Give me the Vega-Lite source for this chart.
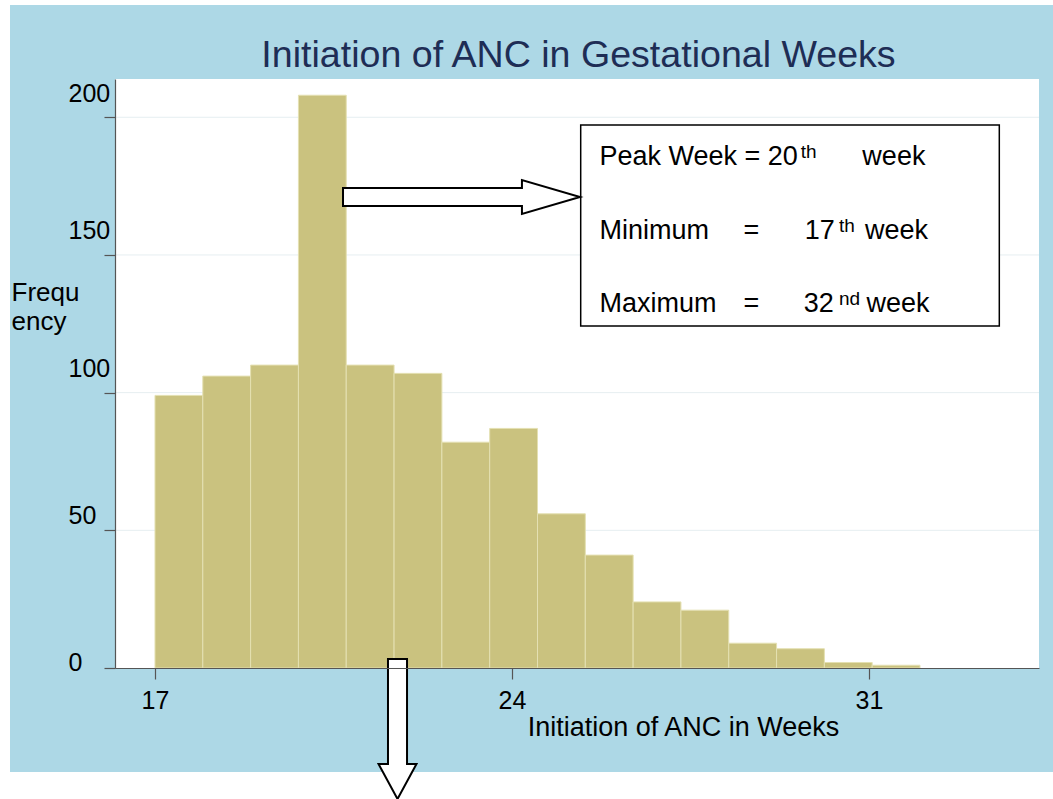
{
  "$schema": "https://vega.github.io/schema/vega-lite/v6.json",
  "width": 924,
  "height": 589,
  "autosize": {"type": "none"},
  "padding": {"left": 115, "top": 79, "right": 14, "bottom": 131},
  "background": "white",
  "config": {
    "view": {"stroke": null},
    "font": "Liberation Sans",
    "text": {"font": "Liberation Sans"}
  },
  "datasets": {
    "histogram": [
      {"week": 17, "bin_start": 17.0, "bin_end": 17.9375, "frequency": 99},
      {"week": 18, "bin_start": 17.9375, "bin_end": 18.875, "frequency": 106},
      {"week": 19, "bin_start": 18.875, "bin_end": 19.8125, "frequency": 110},
      {"week": 20, "bin_start": 19.8125, "bin_end": 20.75, "frequency": 208},
      {"week": 21, "bin_start": 20.75, "bin_end": 21.6875, "frequency": 110},
      {"week": 22, "bin_start": 21.6875, "bin_end": 22.625, "frequency": 107},
      {"week": 23, "bin_start": 22.625, "bin_end": 23.5625, "frequency": 82},
      {"week": 24, "bin_start": 23.5625, "bin_end": 24.5, "frequency": 87},
      {"week": 25, "bin_start": 24.5, "bin_end": 25.4375, "frequency": 56},
      {"week": 26, "bin_start": 25.4375, "bin_end": 26.375, "frequency": 41},
      {"week": 27, "bin_start": 26.375, "bin_end": 27.3125, "frequency": 24},
      {"week": 28, "bin_start": 27.3125, "bin_end": 28.25, "frequency": 21},
      {"week": 29, "bin_start": 28.25, "bin_end": 29.1875, "frequency": 9},
      {"week": 30, "bin_start": 29.1875, "bin_end": 30.125, "frequency": 7},
      {"week": 31, "bin_start": 30.125, "bin_end": 31.0625, "frequency": 2},
      {"week": 32, "bin_start": 31.0625, "bin_end": 32.0, "frequency": 1}
    ],
    "frame": [{"x": 14.157, "x2": 34.8, "y": -37.77, "y2": 240.8}],
    "plotarea": [{"x": 16.2157, "x2": 34.3333, "y": 0, "y2": 213.9}],
    "grid": [{"y": 50}, {"y": 100}, {"y": 150}, {"y": 200}],
    "box": [{"x": 25.347, "x2": 33.555, "y": 124.2, "y2": 197.2}],
    "boxtext": [
      {"text": "Peak Week = 20", "x": 25.716, "y": 182.68},
      {"text": "week", "x": 30.87, "y": 182.68},
      {"text": "Minimum", "x": 25.716, "y": 155.8},
      {"text": "=", "x": 28.54, "y": 155.8},
      {"text": "17", "x": 29.74, "y": 155.8},
      {"text": "week", "x": 30.92, "y": 155.8},
      {"text": "Maximum", "x": 25.716, "y": 129.3},
      {"text": "=", "x": 28.54, "y": 129.3},
      {"text": "32", "x": 29.72, "y": 129.3},
      {"text": "week", "x": 30.95, "y": 129.3}
    ],
    "superscripts": [
      {"text": "th", "x": 29.66, "y": 185.2},
      {"text": "th", "x": 30.41, "y": 158.4},
      {"text": "nd", "x": 30.41, "y": 131.8}
    ],
    "rightarrow": [{"x": 23.01, "y": 171.05}],
    "downarrow": [{"x": 21.755, "y": -22.15}],
    "title": [{"text": "Initiation of ANC in Gestational Weeks", "x": 25.304, "y": 218.27}]
  },
  "layer": [
    {
      "data": {"name": "frame"},
      "mark": {"type": "rect", "fill": "#add8e6", "stroke": null},
      "encoding": {
        "x": {"field": "x", "type": "quantitative"},
        "x2": {"field": "x2"},
        "y": {"field": "y", "type": "quantitative"},
        "y2": {"field": "y2"}
      }
    },
    {
      "data": {"name": "plotarea"},
      "mark": {"type": "rect", "fill": "white", "stroke": null},
      "encoding": {
        "x": {"field": "x", "type": "quantitative"},
        "x2": {"field": "x2"},
        "y": {"field": "y", "type": "quantitative"},
        "y2": {"field": "y2"}
      }
    },
    {
      "data": {"name": "grid"},
      "mark": {"type": "rule", "color": "#e6eef1", "strokeWidth": 1},
      "encoding": {
        "y": {"field": "y", "type": "quantitative"}
      }
    },
    {
      "data": {"name": "histogram"},
      "mark": {"type": "rect", "fill": "#cac27f", "stroke": "#e4e0b2", "strokeWidth": 1},
      "encoding": {
        "x": {
          "field": "bin_start",
          "type": "quantitative",
          "scale": {"domain": [16.2157, 34.3333], "nice": false, "zero": false},
          "axis": {
            "title": "Initiation of ANC in Weeks",
            "values": [17, 24, 31],
            "grid": false,
            "zindex": 1,
            "domainColor": "#555555",
            "domainWidth": 1.2,
            "tickColor": "#555555",
            "tickSize": 11,
            "tickWidth": 1.2,
            "labelFont": "Liberation Sans",
            "labelFontSize": 25,
            "labelColor": "black",
            "labelBaseline": "alphabetic",
            "labelPadding": 29,
            "titleFont": "Liberation Sans",
            "titleFontSize": 27,
            "titleFontWeight": "normal",
            "titleColor": "black",
            "titleX": 568,
            "titleY": 67,
            "titleAlign": "center",
            "titleBaseline": "alphabetic"
          }
        },
        "x2": {"field": "bin_end"},
        "y": {
          "field": "frequency",
          "type": "quantitative",
          "scale": {"domain": [0, 213.9], "nice": false, "zero": true},
          "axis": {
            "title": ["Frequ", "ency"],
            "values": [0, 50, 100, 150, 200],
            "grid": false,
            "zindex": 1,
            "domainColor": "#555555",
            "domainWidth": 1.2,
            "tickColor": "#555555",
            "tickSize": 11,
            "tickWidth": 1.2,
            "labelFont": "Liberation Sans",
            "labelFontSize": 25,
            "labelColor": "black",
            "labelAlign": "left",
            "labelBaseline": "middle",
            "labelPadding": 36,
            "labelOffset": {"expr": "datum.value == 0 ? -6 : (datum.value == 50 ? -15 : -24)"},
            "titleFont": "Liberation Sans",
            "titleFontSize": 26,
            "titleFontWeight": "normal",
            "titleColor": "black",
            "titleAngle": 0,
            "titleX": -104,
            "titleY": 221.5,
            "titleAlign": "left",
            "titleBaseline": "alphabetic",
            "titleLineHeight": 29
          }
        },
        "y2": {"datum": 0}
      }
    },
    {
      "data": {"name": "box"},
      "mark": {"type": "rect", "fill": "white", "stroke": "black", "strokeWidth": 1.5},
      "encoding": {
        "x": {"field": "x", "type": "quantitative"},
        "x2": {"field": "x2"},
        "y": {"field": "y", "type": "quantitative"},
        "y2": {"field": "y2"}
      }
    },
    {
      "data": {"name": "boxtext"},
      "mark": {"type": "text", "align": "left", "baseline": "alphabetic", "fontSize": 27, "font": "Liberation Sans", "color": "black"},
      "encoding": {
        "x": {"field": "x", "type": "quantitative"},
        "y": {"field": "y", "type": "quantitative"},
        "text": {"field": "text"}
      }
    },
    {
      "data": {"name": "superscripts"},
      "mark": {"type": "text", "align": "left", "baseline": "alphabetic", "fontSize": 19, "font": "Liberation Sans", "color": "black"},
      "encoding": {
        "x": {"field": "x", "type": "quantitative"},
        "y": {"field": "y", "type": "quantitative"},
        "text": {"field": "text"}
      }
    },
    {
      "data": {"name": "rightarrow"},
      "mark": {
        "type": "point",
        "shape": "M-1,-0.076L0.51,-0.076L0.51,-0.1435L1,0L0.51,0.1435L0.51,0.076L-1,0.076Z",
        "size": 56169,
        "filled": true,
        "fill": "white",
        "stroke": "black",
        "strokeWidth": 2,
        "opacity": 1
      },
      "encoding": {
        "x": {"field": "x", "type": "quantitative"},
        "y": {"field": "y", "type": "quantitative"}
      }
    },
    {
      "data": {"name": "downarrow"},
      "mark": {
        "type": "point",
        "shape": "M-0.136,-1L0.136,-1L0.136,0.5L0.271,0.5L0,1L-0.271,0.5L-0.136,0.5Z",
        "size": 19600,
        "filled": true,
        "fill": "white",
        "stroke": "black",
        "strokeWidth": 2,
        "opacity": 1
      },
      "encoding": {
        "x": {"field": "x", "type": "quantitative"},
        "y": {"field": "y", "type": "quantitative"}
      }
    },
    {
      "data": {"name": "title"},
      "mark": {"type": "text", "align": "center", "baseline": "alphabetic", "fontSize": 37.6, "font": "Liberation Sans", "color": "#1e2d55"},
      "encoding": {
        "x": {"field": "x", "type": "quantitative"},
        "y": {"field": "y", "type": "quantitative"},
        "text": {"field": "text"}
      }
    }
  ]
}
